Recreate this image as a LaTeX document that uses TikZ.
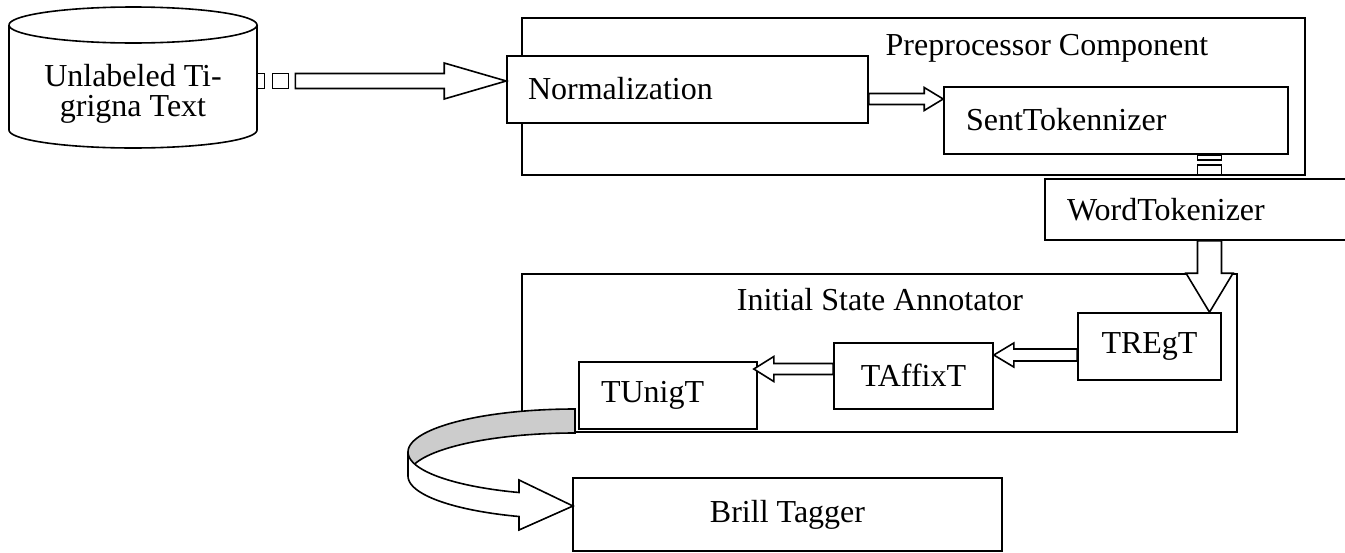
\documentclass[tikz,border=0pt]{standalone}
\usepackage{fontspec}
\setmainfont{Liberation Serif}
\usetikzlibrary{calc}

\newcommand\figfont{\fontsize{16pt}{15pt}\selectfont}

% hollow block arrow, horizontal: #1 tail, #2 tip, #3 half body, #4 half head, #5 signed head length
\newcommand\hblock[5]{%
  \draw[blk] let \p1=#1, \p2=#2 in
    (\x1,\y2+#3) -- (\x2-#5,\y2+#3) -- (\x2-#5,\y2+#4) -- (\x2,\y2)
    -- (\x2-#5,\y2-#4) -- (\x2-#5,\y2-#3) -- (\x1,\y2-#3) -- cycle;}
% hollow block arrow, vertical (pointing down): same arguments
\newcommand\vblock[5]{%
  \draw[blk] let \p1=#1, \p2=#2 in
    (\x2+#3,\y1) -- (\x2+#3,\y2+#5) -- (\x2+#4,\y2+#5) -- (\x2,\y2)
    -- (\x2-#4,\y2+#5) -- (\x2-#3,\y2+#5) -- (\x2-#3,\y1) -- cycle;}

\begin{document}
\begin{tikzpicture}[x=0.5pt,y=-0.5pt,
    frame/.style={draw, line width=0.8pt},
    blk/.style={draw, fill=white, line width=0.8pt, line join=miter},
    box/.style={draw, fill=white, line width=0.8pt, inner sep=0pt, font=\figfont},
    lbox/.style={box, align=left, inner xsep=11pt},
    title/.style={inner sep=0pt, font=\figfont}]
\useasboundingbox (0,0) rectangle (1345,552);

% data source cylinder
\draw[frame, fill=white] (9,25) -- (9,130)
  -- plot[domain=180:360, samples=50] ({133+124*cos(\x)}, {130-18*sin(\x)})
  -- (257,25);
\draw[frame] plot[domain=0:360, samples=80] ({133+124*cos(\x)}, {25-18*sin(\x)}) -- cycle;
\node[title, align=center, minimum width=124pt] (src) at (133,94)
  {Unlabeled Ti-\\grigna Text};

% preprocessor group
\node[frame, minimum width=391.5pt, minimum height=78.5pt] (pre) at (913.5,96.5) {};
\node[title] (pretitle) at (1047,48) {Preprocessor Component};
\node[lbox, text width=159.5pt, inner xsep=10.5pt, minimum height=33.5pt] (norm) at (687.5,89.5) {\raisebox{1.5pt}{Normalization}};
\node[lbox, text width=150pt, minimum height=33.5pt] (sent) at (1116,120.5) {\raisebox{1pt}{SentTokennizer}};

% striped arrow into the preprocessor
\coordinate (a0) at ($(norm.west)+(0,-8.5)$);
\draw[blk] let \p1=(src.east), \p2=(a0) in
  (\x1,\y2-3.75pt) rectangle (\x1+3.5pt,\y2+3.75pt)
  (\x1+7.5pt,\y2-3.75pt) rectangle (\x1+15.5pt,\y2+3.75pt);
\hblock{($(src.east)+(38,0)$)}{(a0)}{3.75pt}{9pt}{31pt}
\hblock{(norm.east)}{($(sent.west)+(0,-21.5)$)}{2.75pt}{5.75pt}{9.5pt}

% annotator group
\node[frame, minimum width=357.5pt, minimum height=79pt] (ann) at (879.5,353) {};
\node[title] (anntitle) at (880,300) {Initial State Annotator};
\node[box, minimum width=71.5pt, minimum height=33.5pt] (tregt) at (1149.5,346.5) {TREgT};
\node[box, minimum width=79.5pt, minimum height=33pt] (taffix) at (913.5,376) {\raisebox{1pt}{TAffixT}};
\node[lbox, text width=67pt, minimum height=33.5pt] (tunig) at (668,395.5) {\raisebox{0.5pt}{TUnigT}};
\coordinate (dn) at ($(tregt.north)+(60,0)$);

% striped arrow from sentence to word tokenizer
\draw[blk] let \p1=(sent.south), \p2=(dn) in
  (\x2-6pt,\y1) rectangle (\x2+6pt,\y1-2.5pt)
  (\x2-6pt,\y1-5pt) rectangle (\x2+6pt,\y1-10pt)
  (\x2-6pt,\y1-12pt) rectangle (\x2+6pt,\y1-20pt);
\node[lbox, text width=143pt, minimum height=30.5pt] (word) at (1210,209.5) {WordTokenizer};

% arrows inside the annotator
\vblock{(word.south)}{(dn)}{6pt}{11.75pt}{19.5pt}
\hblock{(tregt.west)}{($(taffix.east)+(0,-21)$)}{3pt}{6pt}{-10pt}
\hblock{(taffix.west)}{($(tunig.east)+(-4,-26.5)$)}{2.75pt}{6.25pt}{-10pt}

% final tagger
\node[box, minimum width=214.5pt, minimum height=36.5pt] (brill) at (787.5,514.5) {Brill Tagger};

% curved 3-D arrow from the unigram tagger round to the Brill tagger
\draw[blk, fill=black!20]
  plot[domain=90:180, samples=40] ({575+167*cos(\x)}, {452-43*sin(\x)})
  -- (408,476)
  -- plot[domain=180:90, samples=40] ({575+167*cos(\x)}, {476-43*sin(\x)})
  -- cycle;
\draw[blk]
  plot[domain=180:250.4, samples=40] ({575+167*cos(\x)}, {452-43*sin(\x)})
  -- (519,480) -- (573,506) -- (519,530)
  -- plot[domain=250.4:180, samples=40] ({575+167*cos(\x)}, {476-43*sin(\x)})
  -- cycle;
\end{tikzpicture}
\end{document}
